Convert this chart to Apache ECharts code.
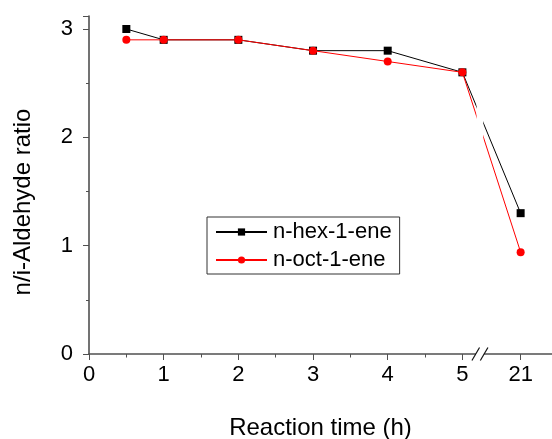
<!DOCTYPE html>
<html>
<head>
<meta charset="utf-8">
<script src="https://cdn.jsdelivr.net/npm/echarts@6/dist/echarts.min.js"></script>
<style>
  html, body { margin: 0; padding: 0; background: #fff; }
  #chart { width: 552px; height: 439px; }
</style>
</head>
<body>
<div id="chart"></div>
<script>
// Reaction time samples (h) and n/i-aldehyde ratios
const sampleTimes = [0.5, 1, 2, 3, 4, 5, 21];
const hexRatio = [3.0, 2.9, 2.9, 2.8, 2.8, 2.6, 1.3];
const octRatio = [2.9, 2.9, 2.9, 2.8, 2.7, 2.6, 0.94];
const seriesNames = ['n-hex-1-ene', 'n-oct-1-ene'];

// Axis tick labels (hours)
const xTickHours = [0, 1, 2, 3, 4, 5, 21];
const xMinorHours = [0.5, 1.5, 2.5, 3.5, 4.5];
const yTickValues = [0, 1, 2, 3];

// The time axis is broken after 5 h: later times are compressed
const BREAK_START = 5;
const BREAK_SCALE = 0.04875;
const BREAK_MARK = 5.235;
function axisPos(t) {
  return t <= BREAK_START ? t : BREAK_START + (t - BREAK_START) * BREAK_SCALE;
}
function hourLabel(pos) {
  for (const h of xTickHours) {
    if (Math.abs(axisPos(h) - pos) < 1e-6) return String(h);
  }
  return '';
}

const FONT = "'Liberation Sans', Arial, sans-serif";
const AXIS_COLOR = '#505050';
const X_MAX = 6.2;
const Y_MAX = 3.12;

const chart = echarts.init(document.getElementById('chart'), null, { renderer: 'canvas' });

const pairs = (vals) => sampleTimes.map((t, i) => [axisPos(t), vals[i]]);

chart.setOption({
  animation: false,
  backgroundColor: '#ffffff',
  textStyle: { fontFamily: FONT },
  grid: { left: 89, right: 0, top: 16, bottom: 85, containLabel: false, outerBoundsMode: 'none' },
  legend: {
    orient: 'vertical',
    left: 207,
    top: 217,
    padding: [4, 8, 3, 8],
    itemGap: 6,
    itemWidth: 51,
    itemHeight: 9,
    borderColor: '#333',
    borderWidth: 1,
    borderRadius: 0,
    textStyle: { fontFamily: FONT, fontSize: 22, color: '#000', padding: [0, 0, 0, 1] },
    data: seriesNames
  },
  xAxis: [
    {
      type: 'value',
      min: 0,
      max: X_MAX,
      position: 'bottom',
      name: 'Reaction time (h)',
      nameLocation: 'middle',
      nameGap: 62,
      nameTextStyle: { fontFamily: FONT, fontSize: 24, color: '#000' },
      axisLine: { show: true, lineStyle: { color: AXIS_COLOR, width: 1.6 } },
      axisTick: {
        show: true, length: 6,
        customValues: xTickHours.map(axisPos),
        lineStyle: { color: AXIS_COLOR, width: 1 }
      },
      axisLabel: {
        show: true, margin: 10,
        customValues: xTickHours.map(axisPos),
        formatter: (v) => hourLabel(v),
        fontFamily: FONT, fontSize: 22, color: '#000'
      },
      splitLine: { show: false }
    },
    {
      type: 'value',
      min: 0,
      max: X_MAX,
      position: 'bottom',
      axisLine: { show: false },
      axisTick: {
        show: true, length: 3.5,
        customValues: xMinorHours.map(axisPos),
        lineStyle: { color: AXIS_COLOR, width: 1 }
      },
      axisLabel: { show: false },
      splitLine: { show: false }
    }
  ],
  yAxis: {
    type: 'value',
    min: 0,
    max: Y_MAX,
    interval: 1,
    name: 'n/i-Aldehyde ratio',
    nameLocation: 'middle',
    nameGap: 54,
    nameTextStyle: { fontFamily: FONT, fontSize: 24, color: '#000', padding: [0, 34, 0, 0] },
    axisLine: { show: true, lineStyle: { color: AXIS_COLOR, width: 1.6 } },
    axisTick: { show: true, length: 6, lineStyle: { color: AXIS_COLOR, width: 1 } },
    minorTick: { show: true, splitNumber: 2, length: 3, lineStyle: { color: AXIS_COLOR, width: 1 } },
    axisLabel: {
      margin: 16,
      customValues: yTickValues,
      fontFamily: FONT, fontSize: 22, color: '#000'
    },
    splitLine: { show: false },
    minorSplitLine: { show: false }
  },
  series: [
    {
      name: seriesNames[0],
      type: 'line',
      data: pairs(hexRatio),
      symbol: 'rect',
      symbolSize: 8,
      itemStyle: { color: '#000' },
      lineStyle: { color: '#000', width: 1 },
      z: 3
    },
    {
      name: seriesNames[1],
      type: 'line',
      data: pairs(octRatio),
      symbol: 'circle',
      symbolSize: 8,
      itemStyle: { color: '#ff0000' },
      lineStyle: { color: '#ff0000', width: 1 },
      z: 4
    },
    {
      // Axis-break decoration: "//" on the time axis and a gap in the lines
      type: 'custom',
      silent: true,
      clip: false,
      z: 10,
      data: [[BREAK_MARK, 0]],
      renderItem: function (params, api) {
        const p = api.coord([BREAK_MARK, 0]);
        const a = api.coord([BREAK_MARK - 0.045, 2.42]);
        const b = api.coord([BREAK_MARK + 0.045, 1.9]);
        const h = 6.5, w = 3.8, off = 4.2;
        return {
          type: 'group',
          children: [
            { type: 'rect', shape: { x: a[0], y: a[1], width: b[0] - a[0], height: b[1] - a[1] },
              style: { fill: '#fff' } },
            { type: 'rect', shape: { x: p[0] - off, y: p[1] - 2, width: off * 2, height: 4 },
              style: { fill: '#fff' } },
            { type: 'line', shape: { x1: p[0] - off - w, y1: p[1] + h, x2: p[0] - off + w, y2: p[1] - h },
              style: { stroke: '#111', lineWidth: 1.2 } },
            { type: 'line', shape: { x1: p[0] + off - w, y1: p[1] + h, x2: p[0] + off + w, y2: p[1] - h },
              style: { stroke: '#111', lineWidth: 1.2 } }
          ]
        };
      }
    }
  ]
});
</script>
</body>
</html>
